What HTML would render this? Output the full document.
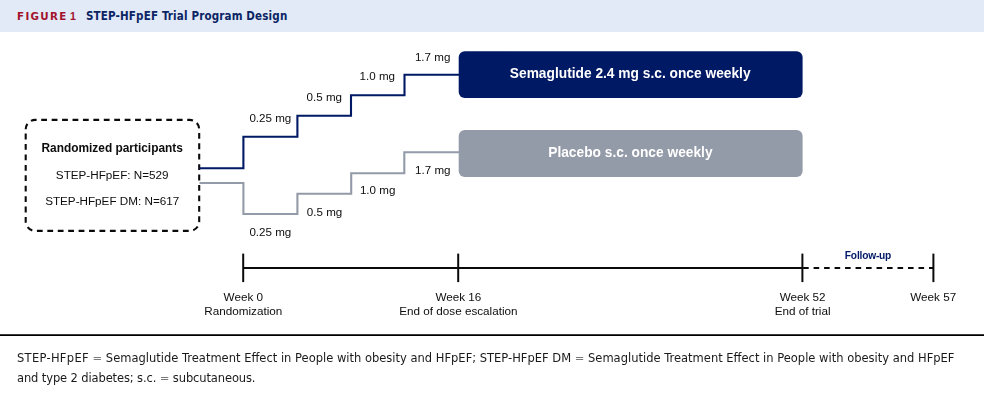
<!DOCTYPE html>
<html lang="en">
<head>
<meta charset="utf-8">
<title>FIGURE 1 STEP-HFpEF Trial Program Design</title>
<style>
  html, body { margin: 0; padding: 0; background: #ffffff; }
  body { width: 984px; height: 401px; position: relative; overflow: hidden;
         font-family: "Liberation Sans", sans-serif; }
  .hdr { position: absolute; left: 0; top: 0; width: 984px; height: 32px; background: #e1eaf6; }
  .fig { position: absolute; left: 17px; top: 9px; font-family: "DejaVu Sans", sans-serif;
         font-weight: bold; font-size: 10.3px; line-height: 14px; letter-spacing: 1.35px; word-spacing: -2.6px; color: #a3122c; white-space: nowrap; }
  .fig .one { font-family: "Liberation Sans", sans-serif; font-size: 10.6px; letter-spacing: 0; }
  .ttl { position: absolute; left: 86px; top: 8px; font-family: "DejaVu Sans Condensed", "DejaVu Sans", sans-serif;
         font-weight: bold; font-stretch: condensed; font-size: 11.5px; line-height: 16px; letter-spacing: 0.16px; color: #0a2464; white-space: nowrap; }
  .rule { position: absolute; left: 0; top: 334px; width: 984px; height: 2px; background: linear-gradient(to bottom, #3c3c3c 0, #3c3c3c 1px, #000 1px, #000 2px); }
  .foot { position: absolute; left: 17px; top: 348px; width: 960px; font-family: "DejaVu Sans", sans-serif;
          font-size: 11.5px; line-height: 20px; word-spacing: 0px; color: #1a1a1a; white-space: nowrap; }
  .foot .w { letter-spacing: 0.3px; }
  .foot .eq { color: #7a7a7a; }
  .foot .l2 { letter-spacing: -0.12px; }
  svg { position: absolute; left: 0; top: 0; will-change: transform; }
  svg text { font-family: "Liberation Sans", sans-serif; }
</style>
</head>
<body>
<div class="hdr"></div>
<div class="fig">FIGURE <span class="one">1</span></div>
<div class="ttl">STEP-HFpEF Trial Program Design</div>

<svg width="984" height="401" viewBox="0 0 984 401">
  <!-- dashed participants box -->
  <path d="M25.7,129.35 A9.5,9.5 0 0 1 35.20,119.85 L189.70,119.85 A9.5,9.5 0 0 1 199.2,129.35 L199.2,221.35 A9.5,9.5 0 0 1 189.70,230.85 L35.20,230.85 A9.5,9.5 0 0 1 25.7,221.35 Z" fill="none" stroke="#0a0a0a" stroke-width="2.1" stroke-dasharray="5.8 4.628"/>
  <g font-size="11.7" fill="#0d0d0d" text-anchor="middle">
    <text x="112.2" y="151.8" font-weight="bold" font-size="11.9">Randomized participants</text>
    <text x="112.2" y="178.8">STEP-HFpEF: N=529</text>
    <text x="112.2" y="204.7">STEP-HFpEF DM: N=617</text>
  </g>

  <!-- stairs -->
  <polyline points="199.5,168.3 243.4,168.3 243.4,136.7 297.4,136.7 297.4,115.7 351,115.7 351,95.2 404.5,95.2 404.5,74.7 460,74.7"
            fill="none" stroke="#001965" stroke-width="2.1" stroke-linejoin="miter"/>
  <polyline points="199.5,183 243.4,183 243.4,214 297.4,214 297.4,193.8 351.2,193.8 351.2,173.2 404.3,173.2 404.3,152.3 460,152.3"
            fill="none" stroke="#939aa8" stroke-width="2.1" stroke-linejoin="miter"/>

  <!-- boxes -->
  <rect x="458.7" y="51.3" width="343.9" height="46.8" rx="6" ry="6" fill="#001965"/>
  <rect x="458.7" y="130" width="343.9" height="46.9" rx="6" ry="6" fill="#939aa8"/>
  <g font-size="13.75" font-weight="bold" fill="#ffffff" text-anchor="middle">
    <text x="630.2" y="78.3">Semaglutide 2.4 mg s.c. once weekly</text>
    <text x="630.4" y="157">Placebo s.c. once weekly</text>
  </g>

  <!-- dose labels -->
  <g font-size="11.6" fill="#0d0d0d">
    <text x="249.4" y="121.6">0.25 mg</text>
    <text x="306.6" y="100.9">0.5 mg</text>
    <text x="359.6" y="80.2">1.0 mg</text>
    <text x="414.9" y="61.2">1.7 mg</text>
    <text x="249.4" y="236.3">0.25 mg</text>
    <text x="306.8" y="215.7">0.5 mg</text>
    <text x="359.9" y="194.1">1.0 mg</text>
    <text x="415.1" y="173.6">1.7 mg</text>
  </g>

  <!-- timeline -->
  <g stroke="#0a0a0a" stroke-width="2" fill="none">
    <line x1="243.3" y1="268" x2="803.1" y2="268"/>
    <line x1="803.1" y1="268" x2="933.4" y2="268" stroke-dasharray="5.6 4.89"/>
    <line x1="243.2" y1="253.6" x2="243.2" y2="282.1"/>
    <line x1="458.2" y1="253.6" x2="458.2" y2="282.1"/>
    <line x1="802.4" y1="253.6" x2="802.4" y2="282.1"/>
    <line x1="933.4" y1="253.6" x2="933.4" y2="282.1"/>
  </g>
  <text x="868" y="258.6" font-size="10.2" letter-spacing="-0.2" font-weight="bold" fill="#001965" text-anchor="middle">Follow-up</text>
  <g font-size="11.7" fill="#0d0d0d" text-anchor="middle">
    <text x="243.3" y="301">Week 0</text>
    <text x="243.3" y="315.1">Randomization</text>
    <text x="458.4" y="301">Week 16</text>
    <text x="458.4" y="315.1">End of dose escalation</text>
    <text x="802.6" y="301">Week 52</text>
    <text x="802.6" y="315.1">End of trial</text>
    <text x="933.2" y="301">Week 57</text>
  </g>
</svg>

<div class="rule"></div>
<div class="foot"><span class="w">STEP-HFpEF</span> <span class="eq">=</span> Semaglutide Treatment Effect in People with obesity and HFpEF; STEP-HFpEF DM <span class="eq">=</span> Semaglutide Treatment Effect in People with obesity and HFpEF<br><span class="l2">and type 2 diabetes; s.c. <span class="eq">=</span> subcutaneous.</span></div>
</body>
</html>
